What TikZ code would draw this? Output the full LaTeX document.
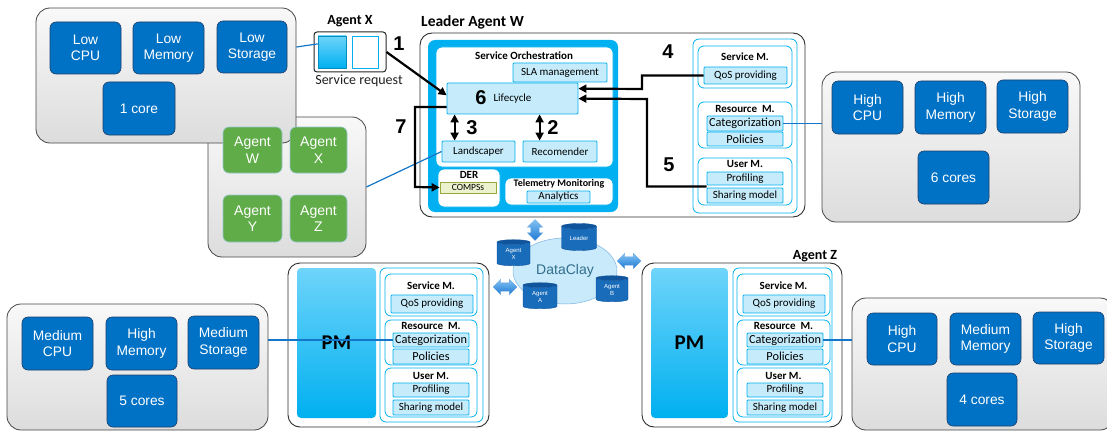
\documentclass[tikz,border=0pt]{standalone}
\usepackage{fontspec}
\setmainfont{Carlito}
\newfontfamily\arialf{Liberation Sans}
\usetikzlibrary{arrows.meta,shapes.geometric,shapes.arrows,calc}

\definecolor{boxblue}{RGB}{0,114,198}
\definecolor{boxblueD}{RGB}{30,62,105}
\definecolor{agentgreen}{RGB}{96,172,72}
\definecolor{agentgreenD}{RGB}{150,200,205}
\definecolor{cyanB}{RGB}{0,176,240}
\definecolor{cyanL}{RGB}{198,236,251}
\definecolor{cyanT}{RGB}{110,212,250}
\definecolor{linkblue}{RGB}{20,118,200}
\definecolor{clayfill}{RGB}{200,234,250}
\definecolor{claytext}{RGB}{50,110,140}
\definecolor{dbbody}{RGB}{24,108,186}
\definecolor{dbtop}{RGB}{16,84,156}
\definecolor{compsfill}{RGB}{236,242,205}
\definecolor{compsdraw}{RGB}{150,170,60}
\definecolor{arrowtop}{RGB}{130,196,245}
\definecolor{arrowbot}{RGB}{30,120,210}

% box from two corners: style, name, x1, y1, x2, y2, text
\newcommand\bx[7]{%
  \pgfmathsetmacro\bxw{#5-#3}\pgfmathsetmacro\bxh{#6-#4}%
  \pgfmathsetmacro\bxx{(#3+#5)/2}\pgfmathsetmacro\bxy{(#4+#6)/2}%
  \node[#1,minimum width=\bxw pt,minimum height=\bxh pt,inner sep=0pt] (#2) at (\bxx,\bxy) {#7};}

\begin{document}
\begin{tikzpicture}[x=1pt,y=-1pt,
  graybox/.style={draw=gray!55!black,line width=0.8pt,rounded corners=14pt,top color=gray!5,bottom color=gray!27},
  bluebox/.style={draw=boxblueD,fill=boxblue,line width=0.6pt,rounded corners=6pt,text=white,align=center,
    font=\arialf\fontsize{13.8}{16.5}\selectfont},
  greenbox/.style={draw=agentgreenD,fill=agentgreen,line width=0.6pt,rounded corners=6pt,text=white,align=center,
    font=\arialf\fontsize{14}{16.5}\selectfont},
  agentframe/.style={draw=gray!35!black,fill=white,line width=0.9pt,rounded corners=12pt},
  cyanpanel/.style={fill=cyanB,rounded corners=7pt},
  whitepanel/.style={draw=cyanB,fill=white,line width=0.8pt,rounded corners=6pt},
  modpanel/.style={draw=cyanB,fill=white,line width=0.8pt,rounded corners=6pt},
  subbox/.style={draw=cyanB,fill=cyanL,line width=0.8pt,rounded corners=1pt,font=\fontsize{11}{12}\selectfont},
  catbox/.style={subbox,font=\fontsize{12.3}{13}\selectfont},
  compsbox/.style={draw=compsdraw,fill=compsfill,line width=0.7pt,font=\fontsize{9.5}{10}\selectfont},
  pmbar/.style={top color=cyanT,bottom color=cyanB,rounded corners=4pt,font=\bfseries\fontsize{21}{21}\selectfont},
  reqframe/.style={draw=gray!30!black,fill=white,line width=1pt,rounded corners=3pt},
  reqfull/.style={draw=cyanB!80!black,top color=cyanT,bottom color=cyanB,line width=0.5pt},
  reqempty/.style={draw=cyanB,fill=white,line width=0.9pt},
  ttl/.style={font=\bfseries\fontsize{11}{12}\selectfont,inner sep=0pt},
  head/.style={font=\bfseries\fontsize{14}{15}\selectfont,inner sep=0pt},
  num/.style={font=\arialf\bfseries\fontsize{20}{20}\selectfont,inner sep=0pt},
  flow/.style={draw=black,line width=2.2pt,-{Triangle[length=8pt,width=8pt]}},
  dflow/.style={draw=black,line width=2.2pt,{Triangle[length=8pt,width=8pt]}-{Triangle[length=8pt,width=8pt]}},
  link/.style={draw=linkblue,line width=1.2pt},
  db/.style={cylinder,shape border rotate=90,aspect=0.3,draw=dbtop,line width=0.4pt,
    cylinder uses custom fill,cylinder body fill=dbbody,cylinder end fill=dbtop,
    text=white,align=center,font=\arialf\fontsize{6}{6.5}\selectfont,inner sep=0pt},
  dblarrow/.style={double arrow,double arrow head extend=3.5pt,minimum height=24pt,
    inner xsep=0pt,inner ysep=4pt,top color=arrowtop,bottom color=arrowbot,draw=arrowbot!70!white,line width=0.3pt}
]
\useasboundingbox (0,0) rectangle (1107,433);
\clip (0,0) rectangle (1107,433);

% ---------- agents overview and low-end host ----------
\bx{graybox}{agents}{208}{117}{366}{257}{}
\bx{graybox}{lowhost}{36}{8}{296}{143}{}
\bx{bluebox}{lowcpu}{50}{22}{121}{74}{Low\\CPU}
\bx{bluebox}{lowmem}{133}{22}{204}{74}{Low\\Memory}
\bx{bluebox}{lowsto}{217}{21}{287}{73}{Low\\Storage}
\bx{bluebox}{onecore}{103}{82}{175}{135}{1 core}
\bx{greenbox}{agW}{223}{127}{282}{173}{Agent\\W}
\bx{greenbox}{agX}{290}{127}{347}{173}{Agent\\X}
\bx{greenbox}{agY}{223}{195}{282}{242}{Agent\\Y}
\bx{greenbox}{agZ}{290}{195}{347}{242}{Agent\\Z}

% ---------- service request of agent X ----------
\node[head] (reqhead) at (350,21) {Agent X};
\bx{reqframe}{req}{314}{32}{386}{72}{}
\bx{reqfull}{reqL}{318}{36}{346}{68}{}
\bx{reqempty}{reqR}{352}{36}{378}{68}{}
\node[font=\fontsize{14}{15}\selectfont,text=gray!25!black,inner sep=0pt] (reqtxt) at (359,81) {Service request};

% ---------- leader agent W ----------
\node[head,font=\bfseries\fontsize{15.5}{16}\selectfont,anchor=west] (leadhead) at (421,22) {Leader Agent W};
\bx{agentframe}{leader}{420}{33}{805}{217}{}
\bx{cyanpanel}{orchpanel}{428}{40}{618}{212}{}
\bx{whitepanel}{orch}{436}{47}{613}{167}{}
\node[ttl] (orchttl) at (524,56) {Service Orchestration};
\bx{subbox}{sla}{513}{63}{607}{82}{SLA management}
\bx{subbox}{life}{447}{83}{578}{114}{Lifecycle}
\node[num] (n6) at (481,98) {6};
\bx{subbox}{land}{442}{141}{515}{162}{Landscaper}
\bx{subbox}{reco}{523}{141}{597}{162}{Recomender}
\bx{whitepanel}{der}{438}{169}{500}{207}{}
\node[ttl] (derttl) at (469,175) {DER};
\bx{compsbox}{comps}{440}{182}{496}{193}{COMPSs}
\bx{whitepanel}{tele}{505}{178}{613}{205}{}
\node[ttl,font=\bfseries\fontsize{10}{11}\selectfont] (telettl) at (559,184) {Telemetry Monitoring};
\bx{subbox}{analytics}{527}{191}{590}{203}{Analytics}

\bx{modpanel}{mods}{693}{39}{797}{213}{}
\bx{modpanel}{svc}{698}{46}{792}{88}{}
\node[ttl] (svcttl) at (745,57) {Service M.};
\bx{subbox}{qos}{704}{67}{787}{84}{QoS providing}
\bx{modpanel}{res}{698}{102}{792}{148}{}
\node[ttl] (resttl) at (745,109) {Resource\ \ M.};
\bx{catbox}{cat}{707}{116}{783}{131}{Categorization}
\bx{catbox}{pol}{707}{132}{783}{146}{Policies}
\bx{modpanel}{usr}{698}{158}{792}{205}{}
\node[ttl] (usrttl) at (745,164) {User M.};
\bx{subbox}{prof}{707}{172}{783}{185}{Profiling}
\bx{subbox}{share}{707}{188}{783}{203}{Sharing model}

% ---------- high-end host ----------
\bx{graybox}{highhost}{822}{72}{1080}{222}{}
\bx{bluebox}{hcpu}{832}{81}{903}{134}{High\\CPU}
\bx{bluebox}{hmem}{915}{81}{986}{134}{High\\Memory}
\bx{bluebox}{hsto}{997}{80}{1068}{133}{High\\Storage}
\bx{bluebox}{sixcores}{918}{151}{989}{204}{6 cores}

% ---------- DataClay ----------
\node[ellipse,fill=clayfill,draw=linkblue!55,line width=0.5pt,minimum width=104pt,minimum height=66pt,
  text=claytext,font=\arialf\fontsize{14}{14}\selectfont] (clay) at (565,271) {DataClay};
\node[db,minimum width=35pt,minimum height=27pt] (dbLeader) at (579,238.5) {Leader};
\node[db,minimum width=33pt,minimum height=26pt] (dbX) at (513.5,254) {Agent\\X};
\node[db,minimum width=34pt,minimum height=26pt] (dbA) at (540,297) {Agent\\A};
\node[db,minimum width=32pt,minimum height=26pt] (dbB) at (612,290) {Agent\\B};
\node[dblarrow,shape border rotate=90,minimum height=21pt,inner xsep=4pt,inner ysep=0pt] (dcUp) at (535,230) {};
\node[dblarrow] (dcRight) at (629,261) {};
\node[dblarrow] (dcLeft) at (505,287) {};

% ---------- agent Y ----------
\bx{agentframe}{agentY}{288}{263}{489}{427}{}
\bx{pmbar}{pmY}{297}{268}{376}{418}{PM}
\bx{modpanel}{modsY}{380}{268}{483}{422}{}
\bx{modpanel}{svcY}{385}{274}{477}{316}{}
\node[ttl] (svcttlY) at (431,286) {Service M.};
\bx{subbox}{qosY}{391}{295}{473}{313}{QoS providing}
\bx{modpanel}{resY}{385}{320}{477}{365}{}
\node[ttl] (resttlY) at (431,326) {Resource\ \ M.};
\bx{catbox}{catY}{393}{333}{469}{347}{Categorization}
\bx{catbox}{polY}{393}{349}{469}{364}{Policies}
\bx{modpanel}{usrY}{385}{368}{477}{417}{}
\node[ttl] (usrttlY) at (431,376) {User M.};
\bx{subbox}{profY}{393}{383}{469}{397}{Profiling}
\bx{subbox}{shareY}{393}{400}{469}{415}{Sharing model}

% ---------- agent Z ----------
\node[head] (zhead) at (815,256) {Agent Z};
\bx{agentframe}{agentZ}{642}{263}{842}{427}{}
\bx{pmbar}{pmZ}{651}{268}{728}{418}{PM}
\bx{modpanel}{modsZ}{733}{268}{832}{422}{}
\bx{modpanel}{svcZ}{737}{274}{830}{316}{}
\node[ttl] (svcttlZ) at (783.5,286) {Service M.};
\bx{subbox}{qosZ}{743}{295}{825}{313}{QoS providing}
\bx{modpanel}{resZ}{737}{320}{830}{365}{}
\node[ttl] (resttlZ) at (783.5,326) {Resource\ \ M.};
\bx{catbox}{catZ}{747}{333}{823}{347}{Categorization}
\bx{catbox}{polZ}{747}{349}{823}{364}{Policies}
\bx{modpanel}{usrZ}{737}{368}{830}{417}{}
\node[ttl] (usrttlZ) at (783.5,376) {User M.};
\bx{subbox}{profZ}{747}{383}{823}{397}{Profiling}
\bx{subbox}{shareZ}{747}{400}{823}{415}{Sharing model}

% ---------- medium host and second high-end host ----------
\bx{graybox}{midhost}{7}{304}{268}{430}{}
\bx{bluebox}{mcpu}{22}{317}{93}{370}{Medium\\CPU}
\bx{bluebox}{hmemB}{106}{317}{177}{370}{High\\Memory}
\bx{bluebox}{msto}{188}{316}{259}{369}{Medium\\Storage}
\bx{bluebox}{fivecores}{107}{375}{177}{427}{5 cores}

\bx{graybox}{highhostB}{852}{298}{1114}{430}{}
\bx{bluebox}{hcpuB}{867}{313}{937}{365}{High\\CPU}
\bx{bluebox}{mmem}{950}{313}{1021}{365}{Medium\\Memory}
\bx{bluebox}{hstoB}{1033}{312}{1104}{364}{High\\Storage}
\bx{bluebox}{fourcores}{947}{373}{1017}{426}{4 cores}

% ---------- resource links ----------
\draw[link] (lowsto.east -| lowhost.east) -- ($(reqL.north west)!0.25!(reqL.south west)$);
\draw[link] (agents.east) -- (land.west);
\draw[link] (cat.east) -- (cat.east -| highhost.west);
\draw[link] (catY.west -| midhost.east) -- (catY.west);
\draw[link] (catZ.east) -- (catZ.east -| highhostB.west);

% ---------- numbered interactions ----------
\coordinate (in1) at ($(life.north west)!0.4!(life.south west)$);
\draw[flow] (req.east) -- (in1);
\node[num] (n1) at (399,44) {1};

\coordinate (a3) at ($(land.north west)+(13,0)$);
\draw[dflow] (a3) -- (a3 |- life.south);
\node[num] (n3) at (472,128) {3};

\coordinate (a2) at ($(reco.north west)+(17,0)$);
\draw[dflow] (a2) -- (a2 |- life.south);
\node[num] (n2) at (553,128) {2};

\coordinate (bend4) at (642,89);
\coordinate (in4) at ($(life.north east)+(0,6)$);
\draw[flow] (qos.west) -| (bend4) -- (in4);
\node[num] (n4) at (668,52) {4};

\coordinate (out5) at ($(prof.south west)!0.5!(share.north west)$);
\coordinate (bend5) at (647,99);
\coordinate (in5) at ($(life.north east)+(0,16)$);
\draw[flow] (out5) -| (bend5) -- (in5);
\node[num] (n5) at (669,165) {5};

\coordinate (out7) at ($(life.north west)!0.77!(life.south west)$);
\coordinate (bend7) at (415,187);
\draw[flow] (out7) -| (bend7) -- (comps.west);
\node[num] (n7) at (401,127) {7};
\end{tikzpicture}
\end{document}
